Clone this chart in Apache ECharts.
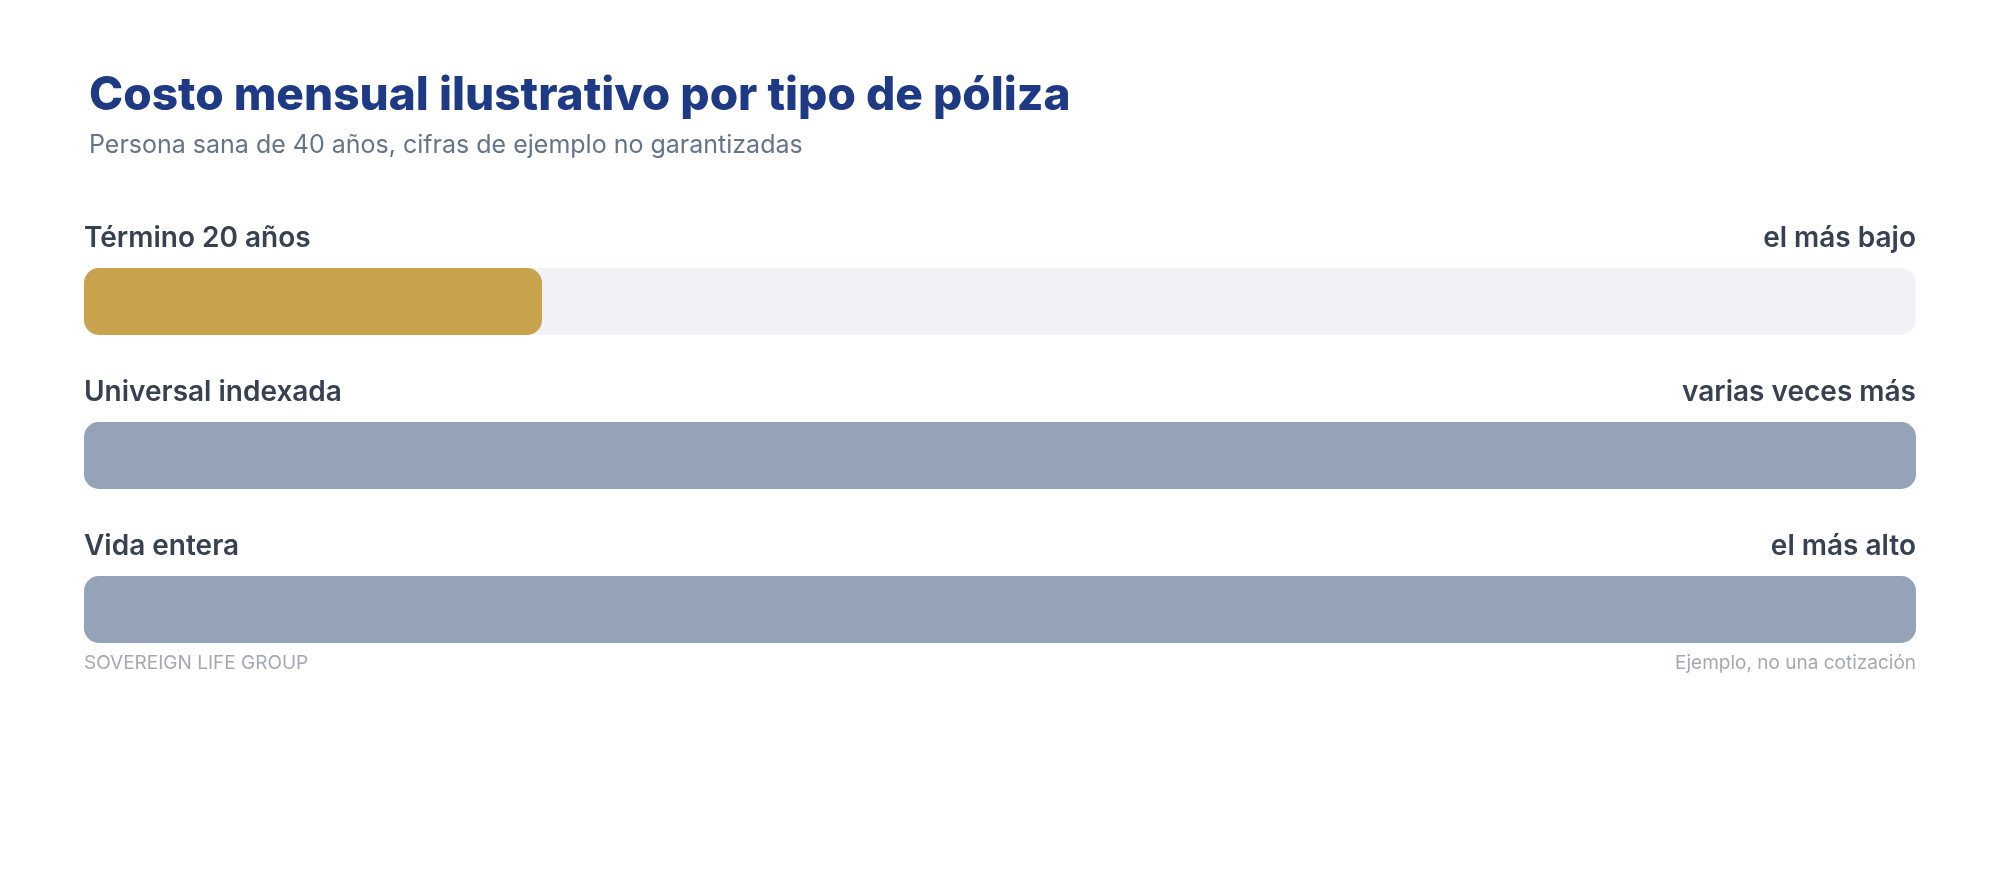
<!DOCTYPE html>
<html><head><meta charset="utf-8">
<script src="https://cdn.jsdelivr.net/npm/echarts@6/dist/echarts.min.js"></script>
<style>html,body{margin:0;background:#fff}#c{width:2000px;height:880px}</style>
</head><body><div id="c"></div>
<script>
const categories = ['Término 20 años', 'Universal indexada', 'Vida entera'];
const values = [25, 100, 100];
const notes = ['el más bajo', 'varias veces más', 'el más alto'];
const barColors = ['#C9A24D', '#94A3B8', '#94A3B8'];

const chart = echarts.init(document.getElementById('c'));
const font = 'Inter, "Noto Sans", sans-serif';
const labelY = [240, 394, 548];
const graphics = [];
categories.forEach((c, i) => {
  graphics.push({type:'text', left:84, top:labelY[i]-15, style:{text:c, font:'600 28px ' + font, fill:'#374151'}});
  graphics.push({type:'text', right:84, top:labelY[i]-15, style:{text:notes[i], font:'600 28px ' + font, fill:'#374151', textAlign:'right'}});
});
graphics.push({type:'text', left:84, top:654, style:{text:'SOVEREIGN LIFE GROUP', font:'400 19px ' + font, fill:'#A3A9B3', letterSpacing:2}});
graphics.push({type:'text', right:84, top:654, style:{text:'Ejemplo, no una cotización', font:'400 19px ' + font, fill:'#A3A9B3'}});

chart.setOption({
  animation:false,
  title:{text:'Costo mensual ilustrativo por tipo de póliza', subtext:'Persona sana de 40 años, cifras de ejemplo no garantizadas',
    left:84, top:68, itemGap:14,
    textStyle:{fontFamily:font, fontSize:46, fontWeight:800, color:'#1F3A85'},
    subtextStyle:{fontFamily:font, fontSize:25, color:'#64748B'}},
  grid:{left:84, right:84, top:224.5, bottom:193.5},
  xAxis:{type:'value', min:0, max:100, show:false},
  yAxis:{type:'category', data:categories, inverse:true, show:false},
  series:[{type:'bar', barWidth:67, data:values.map((v,i)=>({value:v, itemStyle:{color:barColors[i]}})),
    itemStyle:{borderRadius:15},
    showBackground:true, backgroundStyle:{color:'#F1F2F5', borderRadius:15}}],
  graphic:graphics
});
</script></body></html>
